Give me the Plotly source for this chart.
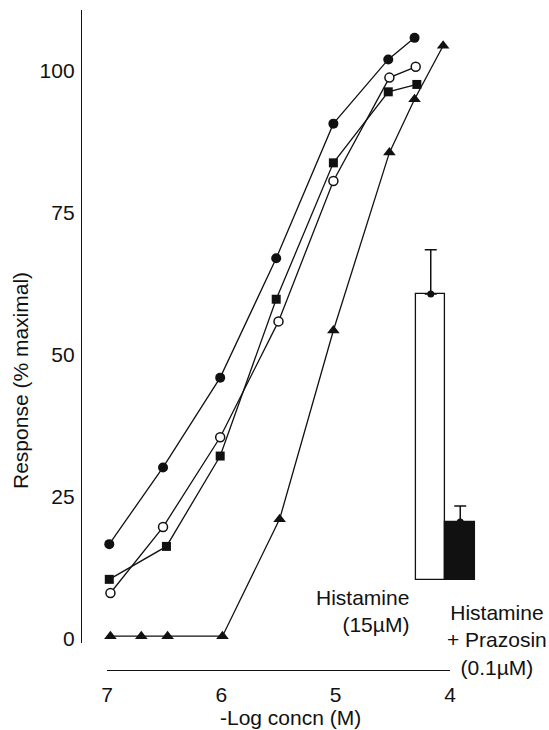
import plotly.graph_objects as go

# ---- data ----
x_filled_circle = [6.98, 6.51, 6.01, 5.52, 5.02, 4.54, 4.31]
y_filled_circle = [16.7, 30.2, 46.0, 67.0, 90.7, 102.0, 105.8]

x_open_circle = [6.97, 6.51, 6.01, 5.50, 5.02, 4.53, 4.30]
y_open_circle = [8.1, 19.7, 35.5, 55.9, 80.6, 98.8, 100.7]

x_square = [6.98, 6.48, 6.01, 5.52, 5.02, 4.54, 4.29]
y_square = [10.5, 16.3, 32.2, 59.8, 83.8, 96.3, 97.6]

x_triangle = [6.97, 6.70, 6.47, 5.99, 5.49, 5.02, 4.53, 4.31, 4.06]
y_triangle = [0.5, 0.5, 0.5, 0.5, 21.1, 54.3, 85.6, 95.0, 104.4]

bar_categories = ["Histamine (15µM)", "Histamine + Prazosin (0.1µM)"]
bar_values = [60.7, 20.6]
bar_errors = [7.8, 2.8]
bar_break_base = 10.4

x_tick_vals = [7, 6, 5, 4]
y_tick_vals = [0, 25, 50, 75, 100]

# ---- layout geometry ----
W, H = 549, 730
ML, MR, MT, MB = 81, 0, 10, 60
PW, PH = W - ML - MR, H - MT - MB


def px(xp):
    return (xp - ML) / PW


def py(yp):
    return (H - MB - yp) / PH


Y_RANGE = [-0.7, 110.7]
Y_DOMAIN = [py(643), 1.0]
BLACK = "#111111"
FONT = "Liberation Sans, Arial, Helvetica, sans-serif"

# inset bar axis: 29.5 px per category, padded so outlines are not clipped
BAR_PX = 29.5
BAR_PAD = 0.1
BAR_LEFT_PX = 416

fig = go.Figure()

line_style = dict(color=BLACK, width=1.3)

fig.add_trace(go.Scatter(
    x=x_triangle, y=y_triangle, mode="lines+markers", line=line_style,
    marker=dict(symbol="triangle-up", size=11, color=BLACK),
    cliponaxis=False, showlegend=False))
fig.add_trace(go.Scatter(
    x=x_square, y=y_square, mode="lines+markers", line=line_style,
    marker=dict(symbol="square", size=9, color=BLACK),
    cliponaxis=False, showlegend=False))
fig.add_trace(go.Scatter(
    x=x_open_circle, y=y_open_circle, mode="lines+markers", line=line_style,
    marker=dict(symbol="circle", size=9, color="white",
                line=dict(color=BLACK, width=1.5)),
    cliponaxis=False, showlegend=False))
fig.add_trace(go.Scatter(
    x=x_filled_circle, y=y_filled_circle, mode="lines+markers", line=line_style,
    marker=dict(symbol="circle", size=10, color=BLACK),
    cliponaxis=False, showlegend=False))

# inset bars
fig.add_trace(go.Bar(
    x=bar_categories,
    y=[v - bar_break_base for v in bar_values],
    base=bar_break_base,
    marker=dict(color=["white", BLACK], line=dict(color=BLACK, width=1.3)),
    error_y=dict(type="data", symmetric=False, array=bar_errors,
                 arrayminus=[0, 0], color=BLACK, thickness=1.5, width=6),
    xaxis="x2", yaxis="y2", showlegend=False))
fig.add_trace(go.Scatter(
    x=bar_categories, y=bar_values, mode="markers",
    marker=dict(symbol="circle", size=7, color=BLACK),
    xaxis="x2", yaxis="y2", cliponaxis=False, showlegend=False))

x2_dom = [px(BAR_LEFT_PX - BAR_PAD * BAR_PX),
          px(BAR_LEFT_PX + (2 + BAR_PAD) * BAR_PX)]

fig.update_layout(
    template="none",
    width=W, height=H,
    margin=dict(l=ML, r=MR, t=MT, b=MB, pad=0, autoexpand=False),
    paper_bgcolor="white", plot_bgcolor="rgba(0,0,0,0)",
    font=dict(family=FONT, size=21, color=BLACK),
    bargap=0,
    xaxis=dict(
        domain=[px(107), px(450)], range=[7, 4],
        anchor="free", position=0, automargin=False,
        showline=True, linecolor=BLACK, linewidth=1.3,
        ticks="", tickvals=x_tick_vals, ticklabelstandoff=6,
        showgrid=False, zeroline=False),
    yaxis=dict(
        domain=Y_DOMAIN, range=Y_RANGE,
        anchor="free", position=0, automargin=False,
        showline=True, linecolor=BLACK, linewidth=1.3,
        ticks="", tickvals=y_tick_vals, ticklabelstandoff=2,
        showgrid=False, zeroline=False),
    xaxis2=dict(
        domain=x2_dom, range=[-0.5 - BAR_PAD, 1.5 + BAR_PAD],
        anchor="y2", visible=False, showgrid=False, automargin=False),
    yaxis2=dict(
        domain=Y_DOMAIN, range=Y_RANGE,
        anchor="x2", visible=False, showgrid=False, automargin=False),
)

annotations = [
    dict(text="-Log concn (M)", x=px(290), y=py(717),
         xanchor="center", yanchor="middle", showarrow=False),
    dict(text="Response (% maximal)", x=px(20), y=py(381),
         xanchor="center", yanchor="middle", textangle=-90, showarrow=False),
    dict(text="Histamine<br>(15µM)", x=px(411), y=py(611),
         xanchor="right", yanchor="middle", align="right", showarrow=False),
    dict(text="Histamine<br>+ Prazosin<br>(0.1µM)", x=px(497), y=py(640),
         xanchor="center", yanchor="middle", align="center", showarrow=False),
]
for a in annotations:
    a.update(xref="paper", yref="paper")
fig.update_layout(annotations=annotations)

fig.write_html("out.html")
